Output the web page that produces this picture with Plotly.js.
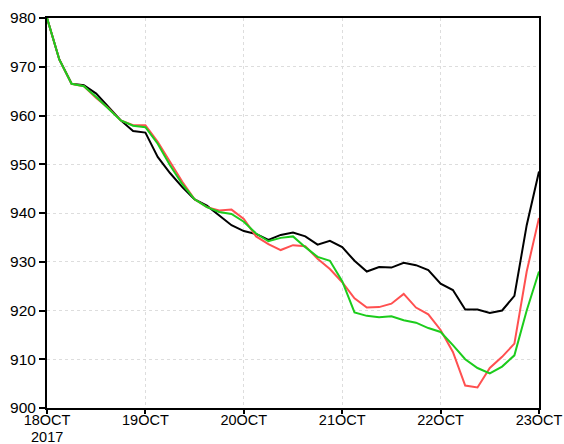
<!DOCTYPE html>
<html>
<head>
<meta charset="utf-8">
<script src="https://cdn.plot.ly/plotly-3.0.1.min.js"></script>
<style>html,body{margin:0;padding:0;background:#fff;}#chart{width:564px;height:444px;}</style>
</head>
<body>
<div id="chart"></div>
<script>
// hours since 18OCT2017 00Z (3-hourly)
const hours = [0,3,6,9,12,15,18,21,24,27,30,33,36,39,42,45,48,51,54,57,60,63,66,69,72,75,78,81,84,87,90,93,96,99,102,105,108,111,114,117,120];
const blackSeries = [980,971.5,966.5,966.2,964.5,961.8,959,956.8,956.5,951.5,948.2,945.3,942.8,941.5,939.5,937.5,936.3,935.7,934.5,935.5,936,935.2,933.5,934.3,933,930.2,928,928.9,928.8,929.8,929.3,928.3,925.5,924.2,920.2,920.2,919.5,920,923,937.5,948.5];
const redSeries = [980,971.5,966.5,966,963.6,961.5,959,958,958,954.6,950.5,946.4,942.8,941.2,940.5,940.7,938.8,935.2,933.6,932.4,933.4,933.2,930.6,928.5,925.8,922.5,920.6,920.7,921.4,923.4,920.6,919.2,916,911.5,904.6,904.2,908.2,910.5,913.2,928,939];
const greenSeries = [980,971.5,966.5,966,963.8,961.5,959,957.9,957.6,954.2,949.8,945.9,942.8,941.2,940.2,939.8,938.2,935.8,934.2,934.9,935.2,933,931,930.2,926,919.6,918.9,918.6,918.8,918,917.5,916.4,915.6,912.9,910,908.2,907.1,908.5,910.8,920,928];
const xTickVals = [0,24,48,72,96,120];
const xTickText = ["18OCT","19OCT","20OCT","21OCT","22OCT","23OCT"];
const yearLabel = "2017";
const yTickVals = [900,910,920,930,940,950,960,970,980];

const mk = (y, color) => ({x: hours, y: y, type: 'scatter', mode: 'lines', line: {color: color, width: 2}, hoverinfo: 'skip'});
const data = [mk(blackSeries, '#000000'), mk(redSeries, '#ff5050'), mk(greenSeries, '#1ccc1c')];

const fontFam = 'Liberation Sans, Arial, sans-serif';
const axisCommon = {
  showline: true, linecolor: '#000', linewidth: 2, mirror: true,
  ticks: 'outside', tickwidth: 2, tickcolor: '#000',
  showgrid: true, gridcolor: '#dddddd', griddash: 'dot', gridwidth: 1,
  zeroline: false
};
const layout = {
  width: 564, height: 444,
  margin: {l: 47, r: 25, t: 18, b: 36},
  paper_bgcolor: '#fff', plot_bgcolor: '#fff',
  showlegend: false,
  xaxis: Object.assign({}, axisCommon, {range: [0, 120], tickvals: xTickVals, ticktext: xTickText, ticklen: 4,
    ticklabelstandoff: -6,
    tickfont: {family: fontFam, size: 14.5, color: '#000'}}),
  yaxis: Object.assign({}, axisCommon, {range: [900, 980], tickvals: yTickVals, ticklen: 6,
    tickfont: {family: fontFam, size: 15.5, color: '#000'}}),
  annotations: [{x: 0, xref: 'x', y: -0.074, yref: 'paper', text: yearLabel, showarrow: false,
    xanchor: 'center', yanchor: 'middle', font: {family: fontFam, size: 14.5, color: '#000'}}]
};
Plotly.newPlot('chart', data, layout, {staticPlot: true, displayModeBar: false});
</script>
</body>
</html>
